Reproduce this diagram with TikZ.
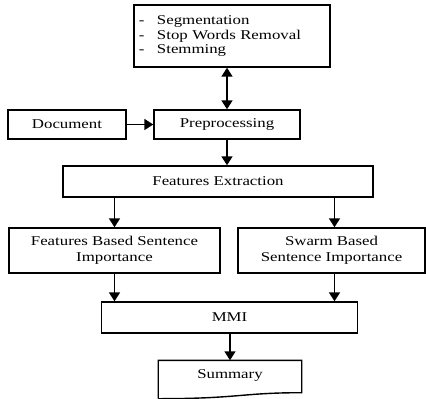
\documentclass[tikz,border=0pt]{standalone}
\usepackage{fontspec}
\setmainfont{Liberation Serif}[FakeStretch=1.25]
\usetikzlibrary{arrows.meta}
\tikzset{blk/.style={draw,line width=1.4bp,inner sep=0pt,align=center,
    font=\fontsize{13.5}{16}\selectfont}}
\tikzset{flw/.style={line width=1.7bp,-{Triangle[length=9bp,width=11bp]}}}
\tikzset{flwB/.style={line width=1.7bp,
    {Triangle[length=9bp,width=11bp]}-{Triangle[length=9bp,width=11bp]}}}

\begin{document}
\begin{tikzpicture}[x=1bp,y=-1bp]

\useasboundingbox (0,0) rectangle (426,399);

% preprocessing steps
\node[blk,minimum width=196bp,minimum height=62bp,text width=186bp,
    align=left,inner xsep=5bp,font=\fontsize{13.5}{15}\selectfont] (steps) at (232,36)
    {\makebox[18bp][l]{-}Segmentation\\
     \makebox[18bp][l]{-}Stop Words Removal\\
     \makebox[18bp][l]{-}Stemming};

% input and preprocessing
\node[blk,minimum width=118bp,minimum height=29bp] (doc) at (67,124.5) {Document};
\node[blk,minimum width=146bp,minimum height=29bp] (pre) at (227,124.5) {Preprocessing};

% features
\node[blk,minimum width=310bp,minimum height=31bp] (fe) at (218,181.5) {Features Extraction};
\node[blk,minimum width=211bp,minimum height=45bp] (fb) at (114.5,250.5)
    {Features Based Sentence\\Importance};
\node[blk,minimum width=187bp,minimum height=45bp] (sw) at (331.5,250.5)
    {Swarm Based\\Sentence Importance};

% MMI and output
\node[blk,minimum width=256bp,minimum height=31bp] (mmi) at (229.5,317.5) {MMI};
\node[blk,draw=none,minimum width=142bp,minimum height=28bp] (sum) at (230,375) {Summary};
\draw[line width=1.4bp]
    ([yshift=-9bp]sum.south west) -- (sum.north west) -- (sum.north east)
    -- ([yshift=-3bp]sum.south east)
    .. controls ([xshift=-60bp,yshift=-3bp]sum.south east)
    and ([xshift=80bp,yshift=-9bp]sum.south west) .. ([yshift=-9bp]sum.south west);

% arrows
\draw[flwB] (pre.north |- steps.south) -- (pre.north);
\draw[flw] (doc) -- (pre);
\draw[flw] (pre.south) -- (pre.south |- fe.north);
\draw[flw] (fb.north |- fe.south) -- (fb.north);
\draw[flw] ([xshift=3bp]sw.north |- fe.south) -- ([xshift=3bp]sw.north);
\draw[flw] (fb.south) -- (fb.south |- mmi.north);
\draw[flw] ([xshift=3bp]sw.south) -- ([xshift=3bp]sw.south |- mmi.north);
\draw[flw] (sum.north |- mmi.south) -- (sum.north);

\end{tikzpicture}
\end{document}
